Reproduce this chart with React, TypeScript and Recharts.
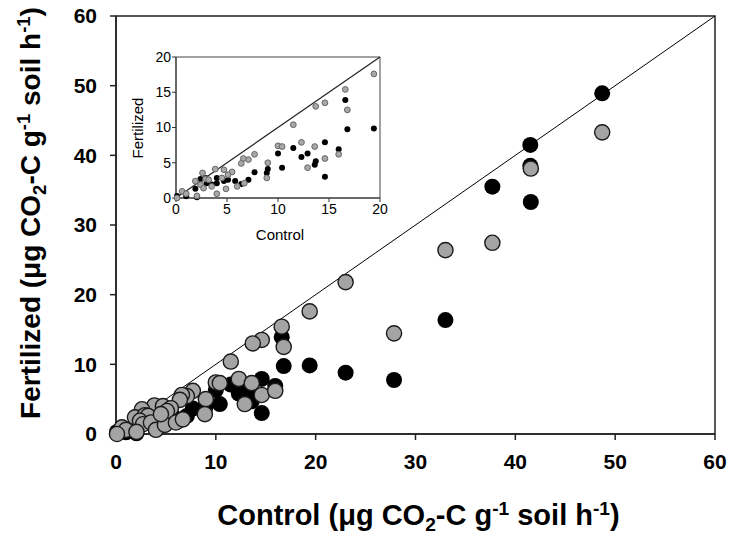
import React from 'react';
import { ScatterChart, Scatter, XAxis, YAxis, ReferenceLine, ReferenceArea, Label } from 'recharts';

// grey circles: [control, fertilized]
const greyPoints: number[][] = [
    [19.4, 17.6], [16.6, 15.4], [16.8, 12.5], [14.6, 13.5], [13.7, 13.0], [11.5, 10.4],
    [10.0, 7.4], [10.4, 7.3], [12.3, 7.9], [13.6, 7.3], [12.9, 4.3], [14.6, 5.6],
    [15.95, 6.2], [7.7, 6.2], [7.1, 5.45], [6.6, 5.6], [6.4, 4.9], [9.0, 5.0],
    [8.9, 2.85], [3.85, 4.1], [4.7, 4.0], [5.5, 3.7], [5.1, 3.3], [2.6, 3.55],
    [1.9, 2.4], [2.9, 2.7], [3.2, 2.6], [2.4, 1.9], [2.7, 1.4], [3.5, 1.65],
    [4.0, 0.6], [4.9, 1.3], [6.0, 1.65], [6.7, 2.1], [0.6, 0.95], [1.0, 0.6],
    [0.1, 0.0], [2.05, 0.3], [4.5, 2.85],
    [23.0, 21.8], [27.85, 14.45], [33.0, 26.4], [37.7, 27.45], [41.55, 38.1], [48.7, 43.3],
];

// black circles: [control, fertilized]
const blackPoints: number[][] = [
    [19.4, 9.85], [16.6, 13.9], [16.8, 9.75], [14.6, 7.9], [14.6, 3.0], [11.5, 7.1],
    [10.0, 6.3], [10.4, 4.3], [12.3, 5.8], [12.9, 6.3], [13.6, 4.7], [13.7, 5.2],
    [15.95, 6.9], [7.7, 3.65], [7.1, 2.6], [6.4, 2.0], [9.0, 4.1], [8.9, 3.55],
    [4.7, 2.4], [5.1, 2.6], [4.0, 2.85], [4.0, 2.1], [3.5, 1.9], [2.4, 2.7],
    [2.9, 2.85], [1.9, 1.3], [0.1, 0.3], [1.0, 0.25], [2.05, 0.1], [5.8, 2.4], [3.0, 2.1],
    [23.0, 8.8], [27.85, 7.75], [33.0, 16.35], [37.7, 35.5], [41.5, 41.5], [41.5, 38.5],
    [41.55, 33.3], [48.7, 48.9],
];

const mainTicks = [0, 10, 20, 30, 40, 50, 60];
const insetTicks = [0, 5, 10, 15, 20];

const toRows = (pts: number[][]) => pts.map(([control, fertilized]) => ({ control, fertilized }));
const greyData = toRows(greyPoints);
const blackData = toRows(blackPoints);
const greyInset = greyData.filter(d => d.control <= 20);
const blackInset = blackData.filter(d => d.control <= 20);

const FONT = '"Liberation Sans", Arial, sans-serif';

// axis title with CO2 subscript and -1 superscripts
const unitTitle = (lead: string, size: number) => (
    <>
        {lead} (μg CO
        <tspan dy={size * 0.22} fontSize={size * 0.66}>2</tspan>
        <tspan dy={-size * 0.22}>-C g</tspan>
        <tspan dy={-size * 0.36} fontSize={size * 0.66}>-1</tspan>
        <tspan dy={size * 0.36}> soil h</tspan>
        <tspan dy={-size * 0.36} fontSize={size * 0.66}>-1</tspan>
        <tspan dy={size * 0.36}>)</tspan>
    </>
);

const App: React.FC = () => {
    const bigTick = { fill: '#000', fontSize: 21, fontWeight: 700, fontFamily: FONT };
    const smallTick = { fill: '#000', fontSize: 14, fontFamily: FONT };

    return (
        <div style={{ position: 'absolute', left: 0, top: 0, width: 730, height: 538, background: '#fff' }}>
            <ScatterChart width={730} height={538} margin={{ top: 16, right: 15, left: 0, bottom: 0 }}>
                <XAxis
                    type="number"
                    dataKey="control"
                    domain={[0, 60]}
                    ticks={mainTicks}
                    height={104}
                    tickSize={6}
                    tickMargin={14}
                    stroke="#222"
                    strokeWidth={1.5}
                    tick={bigTick}
                >
                    <Label
                        content={(props: any) => {
                            const vb = props.viewBox;
                            return (
                                <text x={vb.x + vb.width / 2 + 3} y={525} textAnchor="middle" fontSize={29} fontWeight={700} fontFamily={FONT} fill="#000">
                                    {unitTitle('Control', 29)}
                                </text>
                            );
                        }}
                    />
                </XAxis>
                <YAxis
                    type="number"
                    dataKey="fertilized"
                    domain={[0, 60]}
                    ticks={mainTicks}
                    width={116}
                    tickSize={6}
                    tickMargin={13}
                    stroke="#222"
                    strokeWidth={1.5}
                    tick={bigTick}
                >
                    <Label
                        content={() => (
                            <text x={40} y={213} transform="rotate(-90 40 213)" textAnchor="middle" fontSize={28} fontWeight={700} fontFamily={FONT} fill="#000">
                                {unitTitle('Fertilized', 28)}
                            </text>
                        )}
                    />
                </YAxis>
                <ReferenceArea x1={0} x2={60} y1={0} y2={60} fill="none" stroke="#222" strokeWidth={1.5} />
                <ReferenceLine segment={[{ x: 0, y: 0 }, { x: 60, y: 60 }]} stroke="#000" strokeWidth={1} />
                <Scatter
                    data={blackData}
                    isAnimationActive={false}
                    shape={(p: any) => <circle cx={p.cx} cy={p.cy} r={8} fill="#000" />}
                />
                <Scatter
                    data={greyData}
                    isAnimationActive={false}
                    shape={(p: any) => <circle cx={p.cx} cy={p.cy} r={7.6} fill="#a4a4a4" stroke="#1a1a1a" strokeWidth={1.4} />}
                />
            </ScatterChart>

            <div style={{ position: 'absolute', left: 120, top: 40 }}>
                <ScatterChart width={270} height={210} margin={{ top: 17, right: 10, left: 0, bottom: 0 }}>
                    <XAxis
                        type="number"
                        dataKey="control"
                        domain={[0, 20]}
                        ticks={insetTicks}
                        height={52}
                        tickSize={4}
                        tickMargin={2}
                        stroke="#333"
                        tick={smallTick}
                    >
                        <Label
                            content={(props: any) => {
                                const vb = props.viewBox;
                                return (
                                    <text x={vb.x + vb.width / 2 + 2} y={vb.y + 42} textAnchor="middle" fontSize={15} fontFamily={FONT} fill="#000">
                                        Control
                                    </text>
                                );
                            }}
                        />
                    </XAxis>
                    <YAxis
                        type="number"
                        dataKey="fertilized"
                        domain={[0, 20]}
                        ticks={insetTicks}
                        width={56}
                        tickSize={4}
                        tickMargin={1}
                        stroke="#333"
                        tick={smallTick}
                    >
                        <Label
                            content={() => (
                                <text x={23} y={88} transform="rotate(-90 23 88)" textAnchor="middle" fontSize={15} fontFamily={FONT} fill="#000">
                                    Fertilized
                                </text>
                            )}
                        />
                    </YAxis>
                    <ReferenceArea x1={0} x2={20} y1={0} y2={20} fill="none" stroke="#444" strokeWidth={1} />
                    <ReferenceLine segment={[{ x: 0, y: 0 }, { x: 20, y: 20 }]} stroke="#222" strokeWidth={1.2} />
                    <Scatter
                        data={blackInset}
                        isAnimationActive={false}
                        shape={(p: any) => <circle cx={p.cx} cy={p.cy} r={3} fill="#000" />}
                    />
                    <Scatter
                        data={greyInset}
                        isAnimationActive={false}
                        shape={(p: any) => <circle cx={p.cx} cy={p.cy} r={2.9} fill="#a8a8a8" stroke="#666" strokeWidth={1} />}
                    />
                </ScatterChart>
            </div>
        </div>
    );
};

export default App;
